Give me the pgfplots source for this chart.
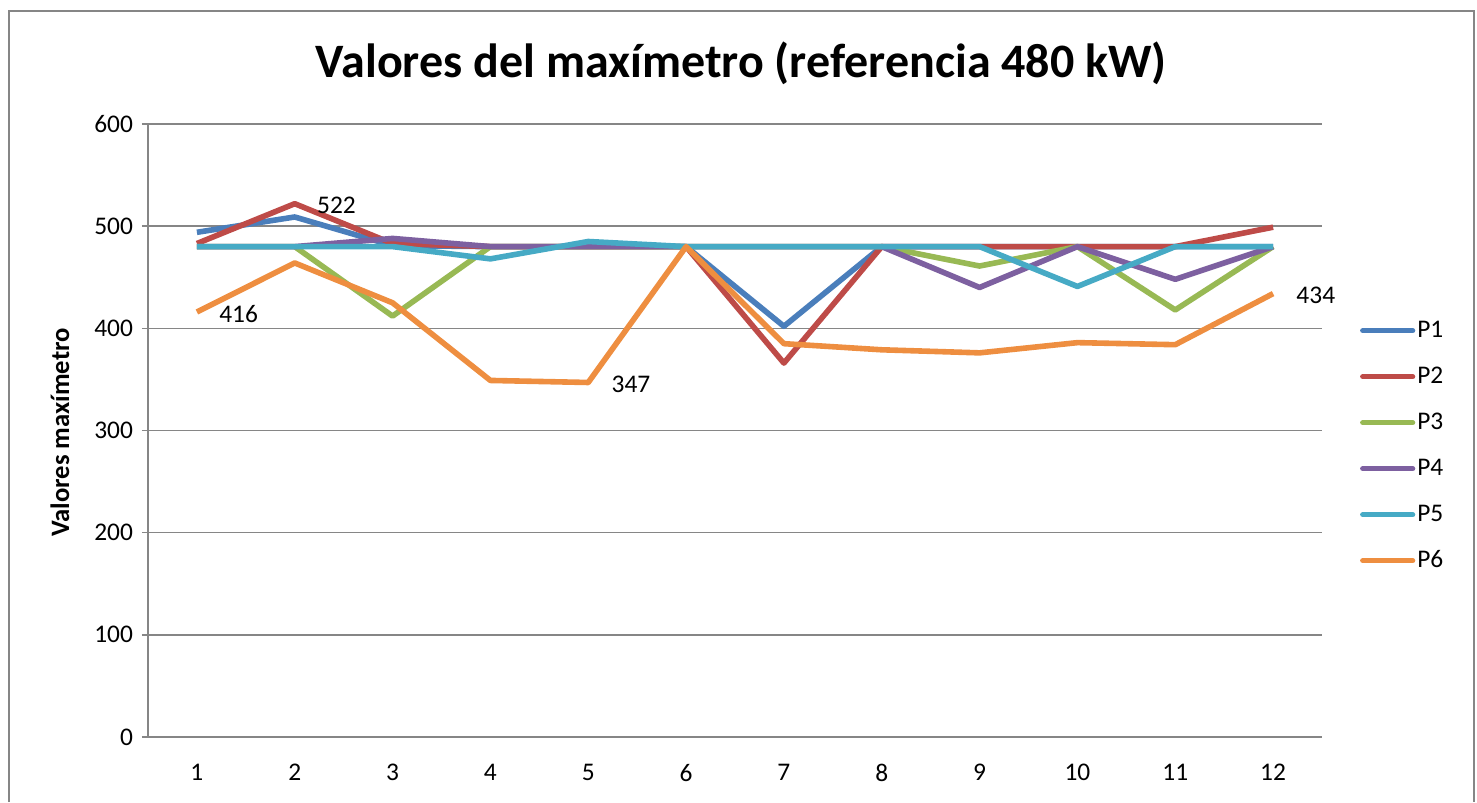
\documentclass[border=0pt]{standalone}
\usepackage{fontspec}
\setmainfont{Carlito}
\usepackage{pgfplots}
\pgfplotsset{compat=1.18}
\definecolor{cP1}{HTML}{4A7EBB}
\definecolor{cP2}{HTML}{BE4B48}
\definecolor{cP3}{HTML}{98B954}
\definecolor{cP4}{HTML}{7D60A0}
\definecolor{cP5}{HTML}{46AAC5}
\definecolor{cP6}{HTML}{EE8E40}
\definecolor{gridc}{RGB}{134,134,134}
\begin{document}
\begin{tikzpicture}
\path (0pt,0pt) rectangle (738.5pt,401pt);
\draw[gridc, line width=0.8pt] (4.5pt,0pt) -- (4.5pt,395.5pt) -- (737pt,395.5pt) -- (737pt,0pt);
\begin{axis}[
  at={(74pt,32.5pt)}, anchor=south west,
  scale only axis, width=587pt, height=306.5pt,
  xmin=0.5, xmax=12.5, ymin=0, ymax=600,
  xtick={1,...,12}, ytick={0,100,...,600},
  ymajorgrids, grid style={gridc, line width=0.8pt},
  axis x line*=bottom, axis y line*=left,
  axis line style={gridc, line width=0.8pt},
  x axis line style={-}, y axis line style={-},
  xtick style={draw=none},
  ytick style={gridc, line width=0.8pt},
  tick align=outside, major tick length=3pt,
  /pgf/number format/assume math mode=true,
  tick label style={font=\fontsize{12.7}{15}\selectfont, text=black},
  yticklabel style={xshift=-1pt},
  xticklabel style={yshift=-7pt},
  ylabel={\bfseries Valores maxímetro},
  ylabel style={font=\fontsize{13.3}{16}\selectfont, at={(axis description cs:-0.075,0.497)}, anchor=center},
  title={\bfseries Valores del maxímetro (referencia 480 kW)},
  title style={font=\fontsize{24}{28}\selectfont, at={(axis description cs:0.5055,1.08)}, anchor=center},
  legend style={draw=none, fill=none, at={(axis description cs:1.027,0.692)}, anchor=north west,
    font=\fontsize{12.7}{15}\selectfont, row sep=9.5pt,
    nodes={text height=9pt, text depth=2.5pt, inner sep=1pt}},
  legend cell align=left,
  legend image code/.code={\draw[#1, line width=2.6pt, line cap=round] (0pt,0pt) -- (25pt,0pt);},
  every axis plot/.append style={line width=2.8pt, line join=round},
  clip=false,
]
\addplot[cP1] coordinates {(1,494) (2,509) (3,481) (4,480) (5,480) (6,480) (7,402) (8,480) (9,480) (10,480) (11,480) (12,480)};
\addlegendentry{P1}
\addplot[cP2] coordinates {(1,483) (2,522) (3,483) (4,480) (5,480) (6,480) (7,366) (8,480) (9,480) (10,480) (11,480) (12,499)};
\addlegendentry{P2}
\addplot[cP3] coordinates {(1,480) (2,480) (3,412) (4,480) (5,480) (6,480) (7,480) (8,480) (9,461) (10,480) (11,418) (12,480)};
\addlegendentry{P3}
\addplot[cP4] coordinates {(1,480) (2,480) (3,488) (4,480) (5,480) (6,480) (7,480) (8,480) (9,440) (10,480) (11,448) (12,480)};
\addlegendentry{P4}
\addplot[cP5] coordinates {(1,480) (2,480) (3,480) (4,468) (5,485) (6,480) (7,480) (8,480) (9,480) (10,441) (11,480) (12,480)};
\addlegendentry{P5}
\addplot[cP6] coordinates {(1,416) (2,464) (3,425) (4,349) (5,347) (6,480) (7,385) (8,379) (9,376) (10,386) (11,384) (12,434)};
\addlegendentry{P6}
\begin{scope}[every node/.style={font=\fontsize{12.7}{15}\selectfont, anchor=west, inner sep=0pt}]
\node at (axis cs:1,416) [xshift=11pt, yshift=-1pt] {416};
\node at (axis cs:2,522) [xshift=11pt, yshift=-1pt] {522};
\node at (axis cs:5,347) [xshift=11.5pt, yshift=-1pt] {347};
\node at (axis cs:12,434) [xshift=11.5pt, yshift=-1pt] {434};
\end{scope}
\end{axis}
\end{tikzpicture}
\end{document}
